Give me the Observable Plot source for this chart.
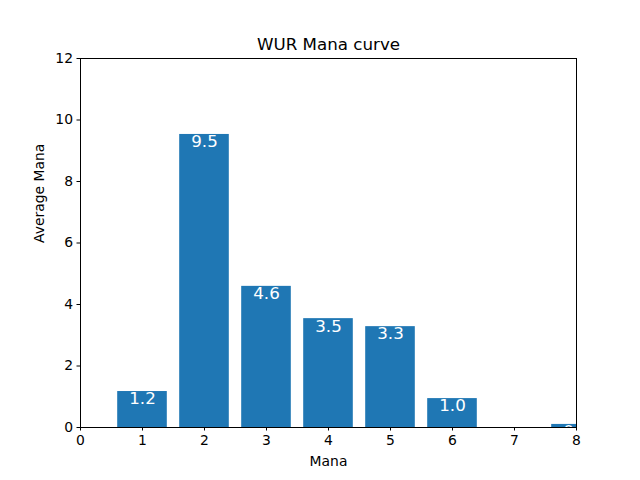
<!DOCTYPE html>
<html>
<head>
<meta charset="utf-8">
<script src="https://cdn.jsdelivr.net/npm/d3@7"></script>
<script src="https://cdn.jsdelivr.net/npm/@observablehq/plot@0.6"></script>
<style>
  html, body { margin: 0; padding: 0; background: #fff; }
  svg { font-family: "DejaVu Sans", sans-serif; }
</style>
</head>
<body>
<div id="chart"></div>
<script>
const manaCosts = [1, 2, 3, 4, 5, 6, 7, 8];
const averageMana = [1.17, 9.53, 4.59, 3.54, 3.28, 0.94, 0, 0.1];
const barLabels = ["1.2", "9.5", "4.6", "3.5", "3.3", "1.0", "", "0.1"];
const xTicks = [0, 1, 2, 3, 4, 5, 6, 7, 8];
const yTicks = [0, 2, 4, 6, 8, 10, 12];
const chartTitle = "WUR Mana curve";

const data = manaCosts.map((m, i) => ({mana: m, value: averageMana[i], label: barLabels[i]}));
const shown = data.filter(d => d.value > 0);

const chart = Plot.plot({
  width: 640,
  height: 480,
  marginLeft: 80,
  marginRight: 64,
  marginTop: 58,
  marginBottom: 53,
  style: {fontFamily: "DejaVu Sans, sans-serif", fontSize: "13.9px", background: "#fff"},
  x: {domain: [0, 8], ticks: xTicks, tickSize: 3.5, tickPadding: 4, label: null, tickFormat: d => String(d)},
  y: {domain: [0, 12], ticks: yTicks, tickSize: 3.5, tickPadding: 4, label: null, tickFormat: d => String(d)},
  marks: [
    Plot.rectY(shown, {x1: d => d.mana - 0.4, x2: d => d.mana + 0.4, y1: 0, y2: "value", fill: "#1f77b4", clip: true}),
    Plot.text(shown, {x: "mana", y: "value", text: "label", fill: "white", fontSize: 16.7, lineAnchor: "top", dy: 1, clip: true}),
    Plot.frame({stroke: "black", strokeWidth: 1}),
    Plot.axisX({ticks: xTicks, tickSize: 3.5, tickPadding: 4, fontSize: 13.9, label: null, tickFormat: d => String(d), stroke: "black"}),
    Plot.axisY({ticks: yTicks, tickSize: 3.5, tickPadding: 4, fontSize: 13.9, label: null, tickFormat: d => String(d), stroke: "black"}),
    Plot.text([chartTitle], {frameAnchor: "top", dy: -9, lineAnchor: "bottom", fontSize: 16.7, fill: "black"}),
    Plot.text(["Mana"], {frameAnchor: "bottom", dy: 38, lineAnchor: "bottom", fontSize: 13.9, fill: "black"}),
    Plot.text(["Average Mana"], {frameAnchor: "left", dx: -41, rotate: -90, fontSize: 13.9, fill: "black"})
  ]
});
document.getElementById("chart").appendChild(chart);
</script>
</body>
</html>
